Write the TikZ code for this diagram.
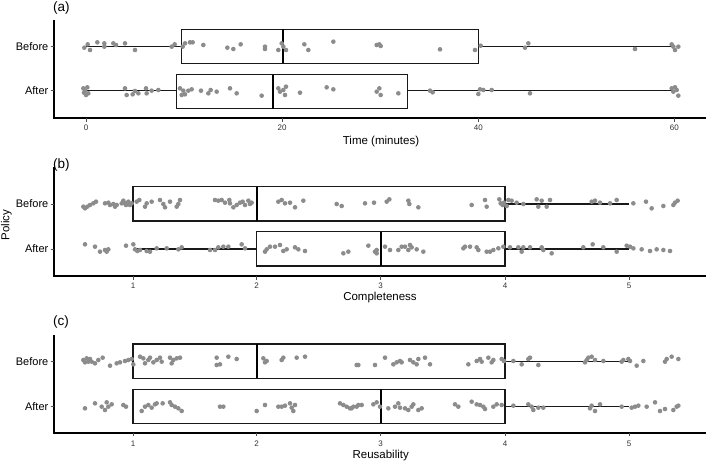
\documentclass[tikz,border=0pt]{standalone}
\usepackage{fontspec}
\setmainfont{Liberation Sans}
\definecolor{dotgray}{RGB}{140,140,140}
\newcommand\jitdots[3]{\foreach \u/\v in {#3} {\fill[pt] ({#1+\u/3},{#2+\v/3}) circle[radius=2.3pt];}}
\begin{document}
\begin{tikzpicture}[x=1pt,y=-1pt,
  pt/.style={fill=dotgray},
  axisline/.style={line width=1.6pt,black},
  boxline/.style={line width=1.1pt,black!90},
  medline/.style={line width=2pt,black},
  whisk/.style={line width=1.1pt,black!90},
  tickmark/.style={line width=0.7pt,black!70},
  ticklab/.style={font=\fontsize{8}{9}\selectfont,text=black!80,inner sep=0pt},
  rowlab/.style={font=\fontsize{11}{12}\selectfont,anchor=east,inner sep=0pt},
  axtitle/.style={font=\fontsize{11.5}{13}\selectfont,inner sep=0pt},
  tag/.style={font=\fontsize{13.5}{15}\selectfont,anchor=west,inner sep=0pt}]
\useasboundingbox (0,0) rectangle (708,463);
\fill[white] (0,0) rectangle (708,463);

% ---------------- Panel (a) ----------------
\node[tag] (taga) at (53,8) {(a)};
\draw[axisline] (54,20) -- (54,118) -- (706,118);
\foreach \xx/\lab [count=\i] in {86/0,282/20,478.3/40,674.3/60}{
  \draw[tickmark] (\xx,118) -- (\xx,121.5);
  \node[ticklab] (ta\i) at (\xx,128) {\lab};
}
\draw[tickmark] (50.5,46.7) -- (54,46.7);
\draw[tickmark] (50.5,90.7) -- (54,90.7);
\node[rowlab] (abef) at (48.5,46.7) {Before};
\node[rowlab] (aaft) at (48.5,90.7) {After};
\node[axtitle] (atitle) at (381,142) {Time (minutes)};
% Before box
\draw[whisk] (86,46.7) -- (181.7,46.7);
\draw[whisk] (478.3,46.7) -- (674.3,46.7);
\draw[boxline] (181.7,29.3) rectangle (478.3,63.3);
\draw[medline] (282.7,29.3) -- (282.7,63.3);
% After box
\draw[whisk] (86,90.7) -- (176.7,90.7);
\draw[whisk] (407.3,90.7) -- (674.3,90.7);
\draw[boxline] (176.7,74.7) rectangle (407.3,108.7);
\draw[medline] (272.7,74.7) -- (272.7,108.7);
\jitdots{0}{0}{253/143,263/133,270/150,292/127,313/130,313/140,340/130,348/135,375/130,405/150,515/140,524/133,548/140,555/130,570/127,578/127,610/135,682/143,700/147,722/133,795/140,795/147,835/150,845/130,850/140,858/150,913/133,925/150,1000/125}
\jitdots{350}{0}{80/135,88/133,92/138,270/148,375/150,392/137,525/143,535/130,855/147,965/133,970/140,975/150,985/140}
\jitdots{0}{0}{250/265,255/272,262/262,258/285,265/280,252/278,375/265,380/285,398/283,405/273,415/280,438/265,440/280,455/272,475/270,540/265,545/285,550/272,555/283,565/272,575/268,603/272,625/280,632/270,650/275,690/265,710/280,785/287,835/265,840/275,850/270,855/285,858/260,900/278,980/262,1000/268}
\jitdots{350}{0}{80/275,88/265,92/285,145/280,240/272,248/277,385/282,390/268,400/270,425/270,540/280,965/265,970/275,975/262,980/270,985/287}

% ---------------- Panel (b) ----------------
\node[tag] (tagb) at (53,165) {(b)};
\draw[axisline] (54,166.7) -- (54,276) -- (706,276);
\foreach \xx/\lab [count=\i] in {133/1,256.7/2,380.7/3,505/4,629/5}{
  \draw[tickmark] (\xx,276) -- (\xx,279.5);
  \node[ticklab] (tb\i) at (\xx,286) {\lab};
}
\draw[tickmark] (50.5,204) -- (54,204);
\draw[tickmark] (50.5,249) -- (54,249);
\node[rowlab] (bbef) at (48.5,204) {Before};
\node[rowlab] (baft) at (48.5,249) {After};
\node[axtitle] (btitle) at (380,297.7) {Completeness};
\node[axtitle,rotate=90] (policy) at (6.5,225) {Policy};
% Before box
\draw[whisk] (505,204) -- (629,204);
\draw[boxline] (133,186.7) rectangle (505,221);
\draw[medline] (256.7,186.7) -- (256.7,221);
% After box
\draw[whisk] (133,249) -- (256.7,249);
\draw[whisk] (505,249) -- (629,249);
\draw[boxline] (256.7,231.7) rectangle (505,266);
\draw[medline] (380.7,231.7) -- (380.7,266);
\jitdots{0}{150}{250/170,255/175,262/170,270/165,280/160,288/155,315/160,325/158,330/165,340/162,345/170,350/165,365/160,370/152,375/160,378/165,385/155,390/165,395/160,410/155,418/150,435/170,440/160,455/155,480/150,490/162,495/172,510/155,530/170,540/150,535/162,645/150,655/152,665/150,675/158,688/150,690/160,700/172,710/165,720/158,728/155,735/165,745/152,750/162,755/158,835/155,845/150,855/160,870/158,885/172,910/152,1010/162,1025/168}
\jitdots{350}{150}{45/160,72/158,110/155,118/148,175/152,178/162,205/172,365/165,405/150,410/170,448/148,452/160,458/165,462/158,470/168,475/150,485/152,500/158,520/162,560/148,565/170,575/152,590/170,600/150,725/155,735/152,750/158,780/160,800/150,850/160,888/155,905/175,940/168,970/165,975/158,983/152}
\jitdots{0}{150}{255/283,285/290,300/305,315/300,320/305,325/298,378/287,400/283,405/298,412/303,420/300,440/303,450/305,470/295,500/295,535/298,545/292,630/300,645/300,655/292,670/290,685/290,725/283,735/295,795/305,800/298,810/290,825/290,840/285,850/303,860/298,885/292,895/298,915/303,1030/310,1045/305}
\jitdots{350}{150}{55/287,75/305,80/310,80/300,105/290,120/300,145/300,155/290,165/290,175/300,180/285,185/292,200/298,220/305,340/295,345/290,360/290,380/292,385/300,410/305,420/305,430/300,445/295,460/290,480/292,505/292,515/305,520/292,540/292,575/292,580/300,605/310,700/292,728/283,760/292,800/305,830/287,840/290,850/295,875/298,900/303,920/298,940/300,960/303}

% ---------------- Panel (c) ----------------
\node[tag] (tagc) at (53,322.3) {(c)};
\draw[axisline] (54,335) -- (54,432.7) -- (706,432.7);
\foreach \xx/\lab [count=\i] in {133/1,256.7/2,380.7/3,505/4,629/5}{
  \draw[tickmark] (\xx,432.7) -- (\xx,436.2);
  \node[ticklab] (tc\i) at (\xx,443.3) {\lab};
}
\draw[tickmark] (50.5,361.7) -- (54,361.7);
\draw[tickmark] (50.5,406.7) -- (54,406.7);
\node[rowlab] (cbef) at (48.5,361.7) {Before};
\node[rowlab] (caft) at (48.5,406.7) {After};
\node[axtitle] (ctitle) at (380.7,455.7) {Reusability};
% Before box
\draw[whisk] (505,361.7) -- (629,361.7);
\draw[boxline] (133,344) rectangle (505,378.3);
\draw[medline] (256.7,344) -- (256.7,378.3);
% After box
\draw[whisk] (505,406.7) -- (629,406.7);
\draw[boxline] (133,389.3) rectangle (505,423.3);
\draw[medline] (380.7,389.3) -- (380.7,423.3);
\jitdots{0}{305}{250/165,255/172,260/160,265/170,270/162,275/170,285/175,295/165,308/158,330/182,350/175,360/172,375/168,385/165,395/162,400/178,420/155,430/160,435/175,445/165,450/158,460/172,470/165,480/158,485/170,510/158,515/175,520/165,530/160,540/158,650/158,650/180,660/178,685/155,710/162,790/160,795/172,800/168,850/158,845/165,890/158,915/155,1075/180}
\jitdots{350}{305}{20/180,75/180,105/158,130/178,140/172,150/168,155/172,180/165,190/172,200/178,205/162,225/158,240/178,355/178,380/168,390/162,395/170,415/158,425/172,430/165,455/162,462/168,490/168,515/178,535/162,540/158,565/180,705/172,710/165,715/158,725/155,735/165,760/168,815/170,820/165,835/162,840/168,860/182,880/168,945/170,950/162,965/155,985/162}
\jitdots{0}{305}{255/310,285/295,305/305,315/315,320/292,325/305,335/298,370/300,378/305,425/318,435/305,445/300,455/308,465/298,470/295,488/295,510/292,515/300,525/305,535/310,545/318,660/305,670/305,770/318,795/300,835/305,845/305,855/302,870/295,875/308,880/318,885/300,1020/295,1030/300,1040/305,1050/310,1060/305,1075/300}
\jitdots{350}{305}{5/310,20/305,35/300,70/298,80/292,90/305,115/310,135/305,145/295,150/308,165/310,175/315,185/305,190/298,205/315,215/310,315/298,325/305,365/290,380/298,390/300,400/305,405/312,430/305,440/298,455/300,490/302,535/298,545/305,550/315,565/308,580/308,720/310,725/302,735/318,750/298,815/305,845/308,855/305,865/302,890/305,915/292,930/318,945/312,970/315,980/305,985/302}
\end{tikzpicture}
\end{document}
